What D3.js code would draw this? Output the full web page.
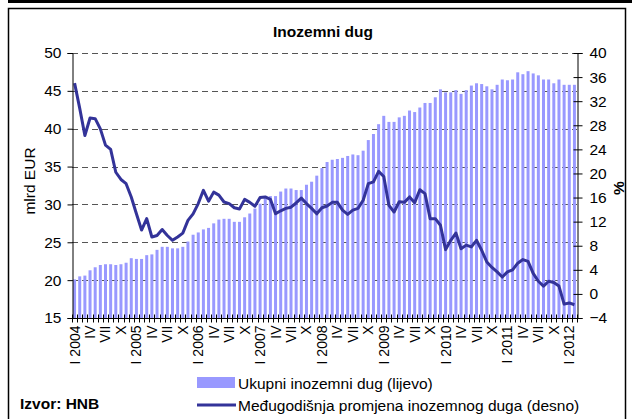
<!DOCTYPE html>
<html>
<head>
<meta charset="utf-8">
<script src="https://cdn.jsdelivr.net/npm/d3@7"></script>
<style>
  html, body { margin: 0; padding: 0; background: #fff; }
  svg { display: block; font-family: "Liberation Sans", Arial, sans-serif; }
</style>
</head>
<body>
<svg id="chart" width="632" height="419"></svg>
<script>
// ---- data ----
const years = [2004, 2005, 2006, 2007, 2008, 2009, 2010, 2011, 2012];
const monthNumerals = ["I","II","III","IV","V","VI","VII","VIII","IX","X","XI","XII"];
const labelledMonths = ["I","IV","VII","X"];
const monthCount = 98; // I 2004 – II 2012

// Ukupni inozemni dug (lijevo), mlrd EUR
const totalDebt = [
  20.1, 20.5, 20.6, 21.3, 21.7, 22.0, 22.1, 22.1, 22.0, 22.1,
  22.3, 22.9, 22.8, 22.8, 23.3, 23.4, 24.0, 24.4, 24.4, 24.2,
  24.2, 24.4, 25.1, 26.0, 26.3, 26.7, 26.9, 27.5, 28.0, 28.1,
  28.1, 27.7, 27.7, 28.3, 28.8, 29.45, 30.1, 30.8, 31.1, 31.1,
  31.7, 32.1, 32.1, 31.9, 31.9, 32.6, 33.0, 33.8, 34.8, 35.6,
  35.9, 36.0, 36.15, 36.4, 36.6, 36.5, 37.1, 38.5, 39.3, 40.6,
  41.7, 40.9, 40.9, 41.5, 41.7, 42.4, 42.2, 42.8, 43.4, 43.4,
  44.15, 45.2, 44.8, 44.8, 45.1, 44.6, 45.1, 45.7, 46.0, 45.9,
  45.6, 45.2, 45.8, 46.5, 46.4, 46.5, 47.45, 47.2, 47.6, 47.3,
  47.05, 46.5, 46.5, 46.0, 46.5, 45.8, 45.8, 45.8
];

// Međugodišnja promjena inozemnog duga (desno), %
const yoyChange = [
  35.0, 30.8, 26.3, 29.2, 29.1, 27.4, 24.7, 24.0, 20.2, 19.0,
  18.3, 16.1, 13.3, 10.6, 12.5, 9.45, 9.7, 10.7, 9.7, 8.9,
  9.45, 10.1, 12.2, 13.3, 15.0, 17.2, 15.4, 16.9, 16.4, 15.26,
  15.0, 14.3, 14.1, 15.7, 15.2, 14.55, 16.0, 16.1, 15.7, 13.3,
  13.8, 14.2, 14.4, 15.1, 15.9, 15.0, 14.2, 13.3, 14.3, 14.6,
  15.2, 15.2, 13.9, 13.2, 13.9, 14.2, 15.55, 18.3, 18.6, 20.35,
  19.5, 14.7, 13.6, 15.3, 15.2, 16.1, 15.15, 17.3, 16.65, 12.5,
  12.5, 11.4, 7.35, 8.9, 10.1, 7.5, 8.1, 7.8, 8.9, 7.25,
  5.3, 4.4, 3.65, 2.8, 3.65, 4.0, 5.1, 5.7, 5.4, 3.4,
  2.1, 1.3, 2.1, 1.9, 1.3, -1.7, -1.5, -1.8
];

const leftTicks = [15, 20, 25, 30, 35, 40, 45, 50];
const rightTicks = [-4, 0, 4, 8, 12, 16, 20, 24, 28, 32, 36, 40];

const title = "Inozemni dug";
const leftTitle = "mlrd EUR";
const rightTitle = "%";
const legendBar = "Ukupni inozemni dug (lijevo)";
const legendLine = "Međugodišnja promjena inozemnog duga (desno)";
const source = "Izvor: HNB";

// ---- categories ----
const months = [];
for (let i = 0; i < monthCount; i++) {
  const y = years[Math.floor(i / 12)];
  const m = monthNumerals[i % 12];
  months.push({ i, year: y, m, label: m === "I" ? "I " + y : m });
}

// ---- layout ----
const svg = d3.select("#chart");
const W = 632, H = 419;
const plot = { left: 72, right: 577, top: 53, bottom: 318 };
const barColor = "#9999ff";
const lineColor = "#333399";

// frame
svg.append("rect").attr("x", 8).attr("y", 0).attr("width", W - 8).attr("height", 3).attr("fill", "#000");
svg.append("rect").attr("x", 8.5).attr("y", 8.5).attr("width", 617).attr("height", 420)
  .attr("fill", "none").attr("stroke", "#000").attr("stroke-width", 1.5);

const x = d3.scaleBand().domain(months.map(d => d.i)).range([plot.left, plot.right]).paddingInner(0.42).paddingOuter(0.21);
const yL = d3.scaleLinear().domain([15, 50]).range([plot.bottom, plot.top]);
const yR = d3.scaleLinear().domain([-4, 40]).range([plot.bottom, plot.top]);
const step = x.step();

// gridlines
svg.append("g").selectAll("line").data(leftTicks.filter(v => v > 15)).join("line")
  .attr("x1", plot.left).attr("x2", plot.right)
  .attr("y1", d => Math.round(yL(d)) + 0.5).attr("y2", d => Math.round(yL(d)) + 0.5)
  .attr("stroke", "#555").attr("stroke-width", 1).attr("stroke-dasharray", "6,4");

// bars
svg.append("g").selectAll("rect").data(totalDebt).join("rect")
  .attr("x", (d, i) => x(i)).attr("width", x.bandwidth())
  .attr("y", d => yL(d)).attr("height", d => yL(15) - yL(d))
  .attr("fill", barColor);

// line
const line = d3.line().x((d, i) => x(i) + x.bandwidth() / 2).y(d => yR(d)).curve(d3.curveLinear);
svg.append("path").datum(yoyChange).attr("d", line)
  .attr("fill", "none").attr("stroke", lineColor).attr("stroke-width", 3).attr("stroke-linejoin", "round");

// left axis
const gL = svg.append("g").attr("transform", `translate(${plot.left + 0.5},0)`)
  .call(d3.axisLeft(yL).tickValues(leftTicks).tickSize(5).tickPadding(6).tickFormat(d3.format("d")));
gL.selectAll("text").attr("font-size", "15.5px").attr("fill", "#000").attr("font-family", "Liberation Sans, Arial, sans-serif");
gL.selectAll("line, path").attr("stroke", "#000");

// right axis
const gR = svg.append("g").attr("transform", `translate(${plot.right + 0.5},0)`)
  .call(d3.axisRight(yR).tickValues(rightTicks).tickSize(5).tickPadding(7).tickFormat(d3.format("d")));
gR.selectAll(".tick line").attr("x1", -4);
gR.selectAll("text").attr("font-size", "15.5px").attr("fill", "#000").attr("font-family", "Liberation Sans, Arial, sans-serif");
gR.selectAll("line, path").attr("stroke", "#000");

// x axis
const gX = svg.append("g").attr("transform", `translate(0,${plot.bottom + 0.5})`);
gX.append("line").attr("x1", plot.left).attr("x2", plot.right + 1).attr("stroke", "#000");
const boundaries = d3.range(monthCount + 1).map(i => plot.left + i * step);
gX.selectAll("line.t").data(boundaries).join("line").attr("class", "t")
  .attr("x1", d => Math.round(d) + 0.5).attr("x2", d => Math.round(d) + 0.5)
  .attr("y1", -4).attr("y2", 4).attr("stroke", "#000");
gX.selectAll("text").data(months.filter(d => labelledMonths.includes(d.m))).join("text")
  .attr("transform", d => `translate(${x(d.i) + x.bandwidth() / 2 + 5},7) rotate(-90)`)
  .attr("text-anchor", "end").attr("font-size", "14px").attr("fill", "#000")
  .text(d => d.label);

// titles
svg.append("text").attr("x", 323).attr("y", 37).attr("text-anchor", "middle")
  .attr("font-weight", "bold").attr("font-size", "15.5px").text(title);
svg.append("text").attr("transform", `translate(35,181) rotate(-90)`).attr("text-anchor", "middle")
  .attr("font-size", "15.5px").text(leftTitle);
svg.append("text").attr("transform", `translate(624,188) rotate(-90)`).attr("text-anchor", "middle")
  .attr("font-size", "15.5px").attr("font-weight", "bold").text(rightTitle);

// legend
const lg = svg.append("g");
lg.append("rect").attr("x", 197).attr("y", 377).attr("width", 38).attr("height", 11).attr("fill", barColor);
lg.append("text").attr("x", 238).attr("y", 389).attr("font-size", "15.5px").text(legendBar);
lg.append("line").attr("x1", 197).attr("x2", 236).attr("y1", 405).attr("y2", 405)
  .attr("stroke", lineColor).attr("stroke-width", 3);
lg.append("text").attr("x", 238).attr("y", 411).attr("font-size", "15.5px").text(legendLine);

// source
svg.append("text").attr("x", 20).attr("y", 409).attr("font-size", "15.5px").attr("font-weight", "bold").text(source);
</script>
</body>
</html>
